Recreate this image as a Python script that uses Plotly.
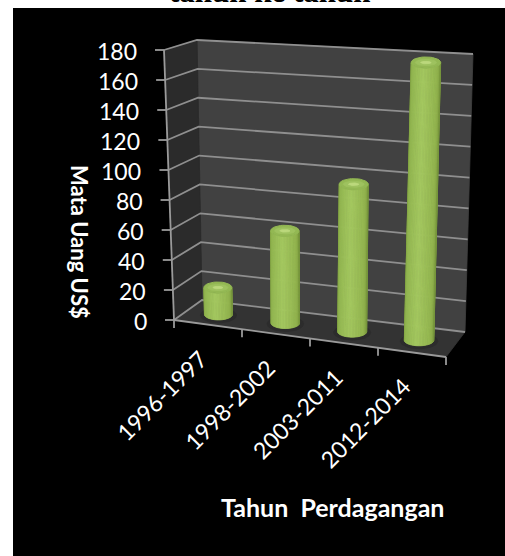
import math
import plotly.graph_objects as go

# ---- data ----
categories = ["1996-1997", "1998-2002", "2003-2011", "2012-2014"]
values = [18, 61, 96, 178]
y_ticks = [0, 20, 40, 60, 80, 100, 120, 140, 160, 180]
title_text = "tahun ke tahun"
y_title = "Mata Uang US$"
x_title = "Tahun\u00a0 Perdagangan"

# ---- oblique projection of the chart box on to the page ----
Y_MAX = 180
BAR_DEPTH = 0.5
BAR_SHIFT = -3
FLB, FLT = (174, 320), (164, 50)
BLB, BLT = (202, 300), (197, 40)
BRB, BRT = (465, 332), (473, 54)
FRB, FRT = (446, 357), (456, 69)


def mix(a, b, t):
    return (a[0] + (b[0] - a[0]) * t, a[1] + (b[1] - a[1]) * t)


def project(u, v, d):
    """u: 0..1 along categories, v: value, d: 0 front .. 1 back"""
    bottom = mix(mix(FLB, FRB, u), mix(BLB, BRB, u), d)
    top = mix(mix(FLT, FRT, u), mix(BLT, BRT, u), d)
    return mix(bottom, top, v / Y_MAX)


def color(stops, t):
    for (t0, c0), (t1, c1) in zip(stops, stops[1:]):
        if t <= t1:
            f = (t - t0) / (t1 - t0)
            c = [round(c0[i] + (c1[i] - c0[i]) * f) for i in range(3)]
            return f"rgb({c[0]},{c[1]},{c[2]})"
    c = stops[-1][1]
    return f"rgb({c[0]},{c[1]},{c[2]})"


fig = go.Figure()


def poly(pts, fill, line=None, width=0.8):
    fig.add_trace(go.Scatter(
        x=[p[0] for p in pts] + [pts[0][0]], y=[p[1] for p in pts] + [pts[0][1]],
        mode="lines", fill="toself", fillcolor=fill,
        line=dict(color=line or fill, width=width), hoverinfo="skip", showlegend=False))


def path(pts, col, width=1.8):
    fig.add_trace(go.Scatter(
        x=[p[0] for p in pts], y=[p[1] for p in pts], mode="lines",
        line=dict(color=col, width=width), hoverinfo="skip", showlegend=False))


def ellipse(cx, cy, rx, ry, n=40):
    return [(cx + rx * math.cos(2 * math.pi * k / n), cy + ry * math.sin(2 * math.pi * k / n))
            for k in range(n)]


# walls and floor
poly([BLB, BRB, BRT, BLT], "#414141")
poly([FLB, BLB, BLT, FLT], "#2b2b2b")
poly([FLB, FRB, BRB, BLB], "#333333")

GRID = "#8f8f8f"
for t in y_ticks:
    path([project(0, t, 0), project(0, t, 1), project(1, t, 1)], GRID)

# value axis with ticks
path([project(0, 0, 0), project(0, Y_MAX, 0)], "#9a9a9a")
for t in y_ticks:
    x0, y0 = project(0, t, 0)
    path([(x0 - 9, y0), (x0, y0)], "#9a9a9a")
    fig.add_annotation(x=x0 - 25, y=y0 + 1, text=str(t), showarrow=False, xanchor="right",
                       yanchor="middle", font=dict(family="Lato", size=23, color="white"))

# category axis with ticks
path([project(0, 0, 0), project(1, 0, 0)], "#9a9a9a")
for k in range(len(categories) + 1):
    x0, y0 = project(k / len(categories), 0, 0)
    path([(x0, y0), (x0, y0 + 8)], "#9a9a9a")
for k, cat in enumerate(categories):
    x0, y0 = project((k + 0.5) / len(categories), 0, 0)
    fig.add_annotation(x=x0 - 47, y=y0 + 71, text=cat, showarrow=False, textangle=-45,
                       xanchor="center", yanchor="middle",
                       font=dict(family="Lato", size=23, color="white"))

# cylinders
SIDE = [(0.0, (124, 156, 62)), (0.15, (146, 182, 80)), (0.45, (164, 200, 96)),
        (0.8, (146, 180, 78)), (1.0, (116, 146, 58))]
STRIPS = 30
for k, val in enumerate(values):
    u = (k + 0.5) / len(categories)
    cx, by = project(u, 0, BAR_DEPTH)
    tx, ty = project(u, val, BAR_DEPTH)
    cx += BAR_SHIFT
    tx += BAR_SHIFT
    rx = 14 + 0.25 * k
    ry = 5.6
    poly(ellipse(cx, by + 1, rx + 4, ry + 2), "#2c2c2c")
    for s in range(STRIPS):
        a0 = math.pi * (1 - s / STRIPS)
        a1 = math.pi * (1 - (s + 1) / STRIPS)
        p0 = [(tx + rx * math.cos(a0), ty + ry * math.sin(a0)), (tx + rx * math.cos(a1), ty + ry * math.sin(a1))]
        p1 = [(cx + rx * math.cos(a1), by + ry * math.sin(a1)), (cx + rx * math.cos(a0), by + ry * math.sin(a0))]
        poly(p0 + p1, color(SIDE, (s + 0.5) / STRIPS))
    poly(ellipse(tx, ty, rx, ry), "#93b853", width=1)
    poly(ellipse(tx, ty, rx * 0.72, ry * 0.55), "#9ec25f")
    poly(ellipse(tx, ty, rx * 0.36, ry * 0.22), "#bbd87c")

fig.add_annotation(x=270, y=11, text=f"<b>{title_text}</b>", showarrow=False, xanchor="center",
                   yanchor="bottom", font=dict(family="Liberation Serif", size=31, color="black"))
fig.add_annotation(x=80, y=242, text=f"<b>{y_title}</b>", showarrow=False, textangle=90,
                   xanchor="center", yanchor="middle", font=dict(family="Lato", size=22, color="white"))
fig.add_annotation(x=332, y=507, text=f"<b>{x_title}</b>", showarrow=False, xanchor="center",
                   yanchor="middle", font=dict(family="Lato", size=25, color="white"))

fig.update_layout(
    width=505, height=556, autosize=False, margin=dict(l=13, r=0, t=8, b=0, pad=0),
    paper_bgcolor="white", plot_bgcolor="black", showlegend=False,
    xaxis=dict(range=[13, 505], visible=False, fixedrange=True),
    yaxis=dict(range=[556, 8], visible=False, fixedrange=True),
)
fig.write_html("out.html", config={"displayModeBar": False},
               post_script="document.body.style.margin='0';document.body.style.overflow='hidden';")
